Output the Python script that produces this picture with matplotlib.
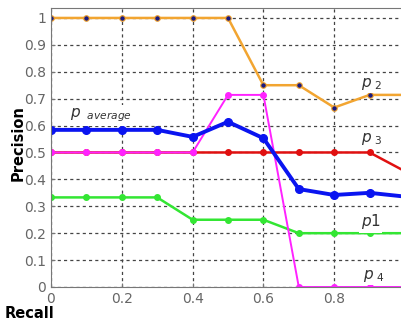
import numpy as np
import matplotlib
matplotlib.use('Agg')
import matplotlib.pyplot as plt

recall = [0, 0.1, 0.2, 0.3, 0.4, 0.5, 0.6, 0.7, 0.8, 0.9, 1.0]
p1 = [0.333, 0.333, 0.333, 0.333, 0.25, 0.25, 0.25, 0.2, 0.2, 0.2, 0.2]
p2 = [1, 1, 1, 1, 1, 1, 0.75, 0.75, 0.667, 0.714, 0.714]
p3 = [0.5, 0.5, 0.5, 0.5, 0.5, 0.5, 0.5, 0.5, 0.5, 0.5, 0.43]
p4 = [0.5, 0.5, 0.5, 0.5, 0.5, 0.714, 0.714, 0, 0, 0, 0]
p_avg = [0.584, 0.584, 0.584, 0.584, 0.558, 0.614, 0.553, 0.364, 0.342, 0.35, 0.336]

fig = plt.figure(figsize=(4.01, 3.23), dpi=100)
ax = fig.add_axes([51/401, 36/323, 354/401, 279/323])

ax.plot(recall, p1, color='#33e633', lw=1.8, marker='o', ms=4, mec='#33e633', mfc='#33e633')
ax.plot(recall, p3, color='#e01010', lw=1.8, marker='o', ms=4, mec='#e01010', mfc='#e01010')
ax.plot(recall, p4, color='#ff22ff', lw=1.4, marker='o', ms=4, mec='#ff22ff', mfc='#ff22ff')
ax.plot(recall, p2, color='#f2a531', lw=1.8, marker='o', ms=4, mec='#f2a531', mfc='#1a1a80', mew=0.8)
ax.plot(recall, p_avg, color='#0a14f0', lw=2.8, marker='o', ms=5.5, mec='#0a14f0', mfc='#0a14f0')

ax.set_xlim(0, 1)
ax.set_ylim(0, 1.037)
ax.set_xticks([0, 0.2, 0.4, 0.6, 0.8])
ax.set_xticklabels(['0', '0.2', '0.4', '0.6', '0.8'])
ax.set_yticks(np.arange(0, 1.01, 0.1))
ax.set_yticklabels(['0', '0.1', '0.2', '0.3', '0.4', '0.5', '0.6', '0.7', '0.8', '0.9', '1'])
ax.tick_params(direction='in', length=3, colors='#777777', labelsize=10, labelcolor='#666666')
ax.grid(True, color='#444444', ls=(0, (2.5, 2.5)), lw=0.9)
ax.set_axisbelow(True)
for s in ax.spines.values():
    s.set_color('#777777')

tf = dict(family='serif', style='italic', color='#333333', fontsize=11,
          bbox=dict(facecolor='white', edgecolor='none', pad=1))
ax.text(0.055, 0.63, r'$p_{\ \ average}$', **tf)
ax.text(0.875, 0.745, r'$p_{\ 2}$', **tf)
ax.text(0.875, 0.54, r'$p_{\ 3}$', **tf)
ax.text(0.875, 0.225, r'$p1$', **tf)
ax.text(0.88, 0.03, r'$p_{\ 4}$', **tf)

fig.text(18/401, 1 - 143/323, 'Precision', rotation=90, fontweight='bold',
         fontsize=10.5, ha='center', va='center')
fig.text(30/401, 1 - 313/323, 'Recall', fontweight='bold', fontsize=10.5,
         ha='center', va='center')

fig.savefig('out.png', dpi=100)
